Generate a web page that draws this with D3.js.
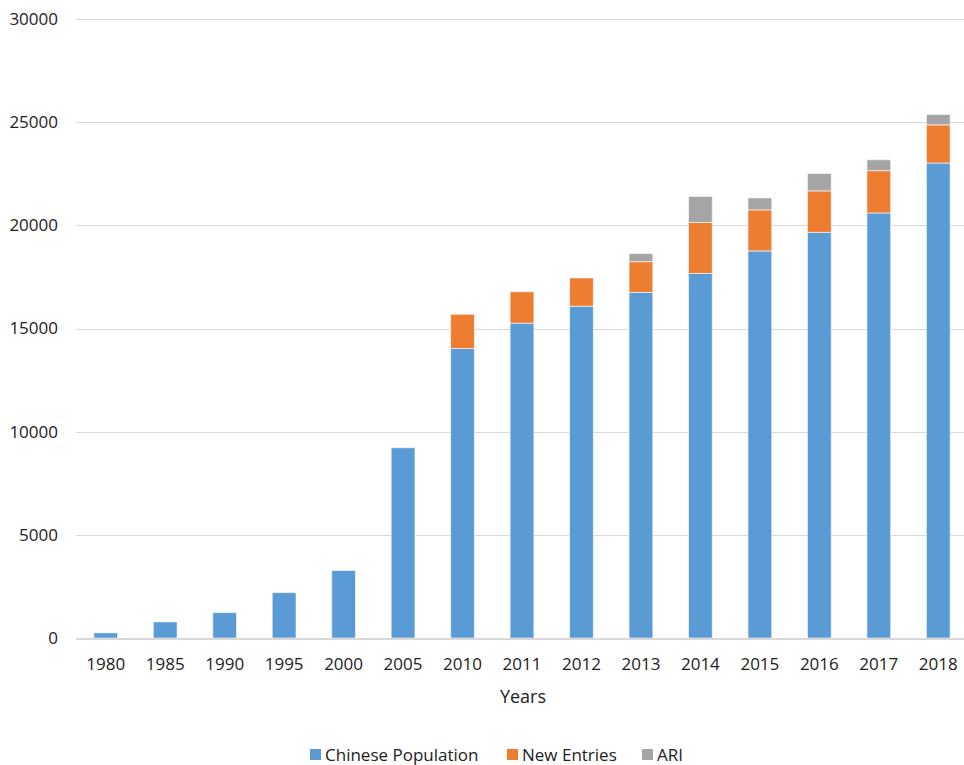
<!DOCTYPE html>
<html>
<head>
<meta charset="utf-8">
<script src="https://cdn.jsdelivr.net/npm/d3@7"></script>
<style>
  html, body { margin: 0; padding: 0; background: #fff; }
  svg { display: block; font-family: "Open Sans", "Noto Sans", sans-serif; }
</style>
</head>
<body>
<svg id="chart" width="964" height="765"></svg>
<script>
// ── Data ────────────────────────────────────────────────────────────────────
const years = ["1980", "1985", "1990", "1995", "2000", "2005", "2010", "2011",
               "2012", "2013", "2014", "2015", "2016", "2017", "2018"];
const chinesePopulation = [250, 780, 1230, 2200, 3270, 9220, 14030, 15260,
                           16080, 16750, 17670, 18760, 19660, 20600, 23020];
const newEntries = [0, 0, 0, 0, 0, 0, 1660, 1520, 1370, 1490, 2470, 1990, 2010, 2050, 1850];
const ari        = [0, 0, 0, 0, 0, 0, 0, 0, 0, 390, 1260, 580, 840, 530, 500];
const yTicks = [0, 5000, 10000, 15000, 20000, 25000, 30000];

const seriesNames = ["Chinese Population", "New Entries", "ARI"];
const colors = ["#5b9bd5", "#ed7d31", "#a5a5a5"];

// ── Layout ──────────────────────────────────────────────────────────────────
const margin = { top: 19, left: 76, right: -4, bottom: 127 };
const width = 964, height = 765;

const svg = d3.select("#chart");

const x = d3.scaleBand()
  .domain(years)
  .range([margin.left, width - margin.right])
  .paddingInner(0.6)
  .paddingOuter(0.3);

const y = d3.scaleLinear()
  .domain([0, 30000])
  .range([height - margin.bottom, margin.top]);

// ── Gridlines ───────────────────────────────────────────────────────────────
svg.append("g")
  .selectAll("line")
  .data(yTicks.filter(d => d > 0))
  .join("line")
  .attr("x1", margin.left).attr("x2", width)
  .attr("y1", d => Math.round(y(d)) + 0.5).attr("y2", d => Math.round(y(d)) + 0.5)
  .attr("stroke", "#d9d9d9").attr("stroke-width", 1);

// y tick labels
svg.append("g")
  .selectAll("text")
  .data(yTicks)
  .join("text")
  .attr("x", 58)
  .attr("y", d => y(d))
  .attr("dy", "0.35em")
  .attr("text-anchor", "end")
  .attr("font-size", 17)
  .attr("fill", "#222")
  .text(d => d);

// ── Stacked bars ────────────────────────────────────────────────────────────
const rows = years.map((yr, i) => ({
  year: yr,
  "Chinese Population": chinesePopulation[i],
  "New Entries": newEntries[i],
  "ARI": ari[i],
}));
const stacked = d3.stack().keys(seriesNames)(rows);

svg.append("g")
  .selectAll("g")
  .data(stacked)
  .join("g")
  .attr("fill", (d, i) => colors[i])
  .selectAll("rect")
  .data(d => d.filter(s => s[1] - s[0] > 0))
  .join("rect")
  .attr("x", d => x(d.data.year))
  .attr("width", x.bandwidth())
  .attr("y", d => y(d[1]))
  .attr("height", d => y(d[0]) - y(d[1]))
  .attr("stroke", "#fff")
  .attr("stroke-opacity", 0.6)
  .attr("stroke-width", 1);

// baseline
svg.append("line")
  .attr("x1", margin.left).attr("x2", width)
  .attr("y1", y(0) + 1).attr("y2", y(0) + 1)
  .attr("stroke", "#d9d9d9").attr("stroke-width", 2);

// x tick labels
svg.append("g")
  .selectAll("text")
  .data(years)
  .join("text")
  .attr("x", d => x(d) + x.bandwidth() / 2)
  .attr("y", 664)
  .attr("dy", "0.35em")
  .attr("text-anchor", "middle")
  .attr("font-size", 17)
  .attr("fill", "#222")
  .text(d => d);

// axis title
svg.append("text")
  .attr("x", 523).attr("y", 697)
  .attr("dy", "0.35em")
  .attr("text-anchor", "middle")
  .attr("font-size", 18)
  .attr("fill", "#222")
  .text("Years");

// ── Legend ──────────────────────────────────────────────────────────────────
const legendX = [310, 507, 642];
const legend = svg.append("g")
  .selectAll("g")
  .data(seriesNames)
  .join("g")
  .attr("transform", (d, i) => `translate(${legendX[i]},755)`);

legend.append("rect")
  .attr("x", 0).attr("y", -6)
  .attr("width", 11).attr("height", 11)
  .attr("fill", (d, i) => colors[i]);

legend.append("text")
  .attr("x", 15).attr("y", 0)
  .attr("dy", "0.35em")
  .attr("font-size", 17)
  .attr("fill", "#222")
  .text(d => d);
</script>
</body>
</html>
